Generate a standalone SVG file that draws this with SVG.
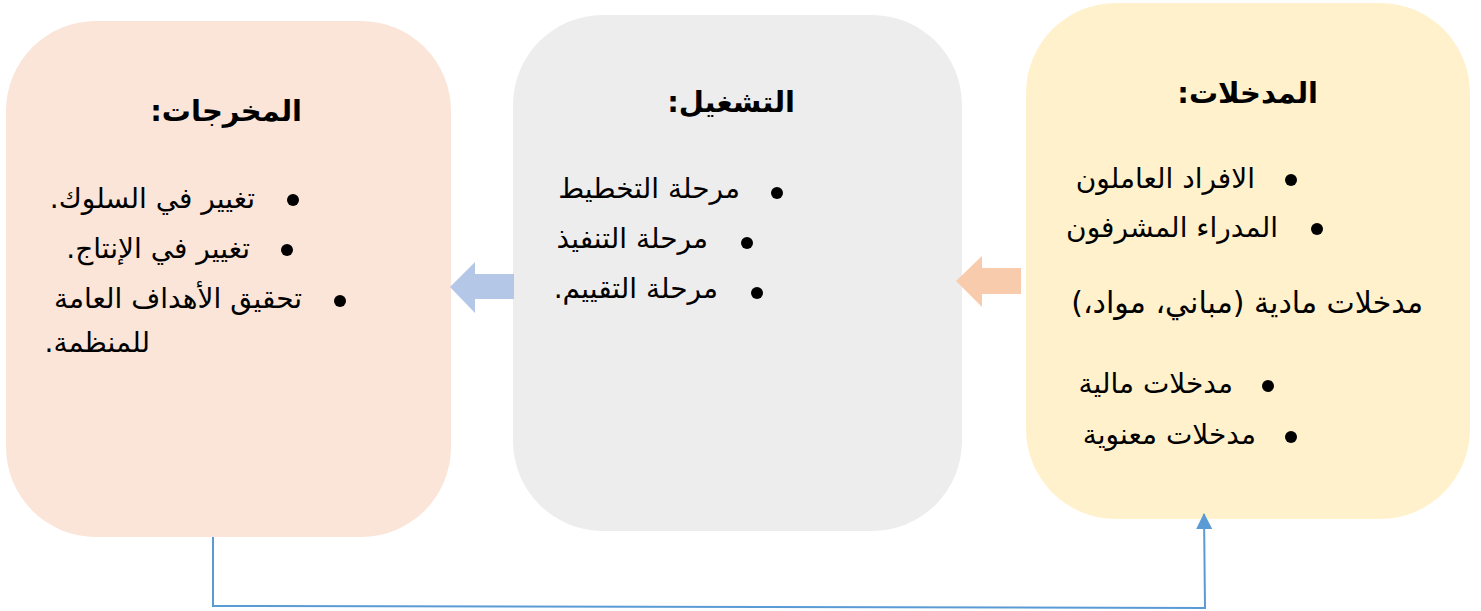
<svg xmlns="http://www.w3.org/2000/svg" width="1481" height="611" viewBox="0 0 1481 611">
<style>
.t{font-family:"DejaVu Sans","Liberation Sans",sans-serif;font-size:28px;fill:#000;direction:rtl;}
.h{font-family:"DejaVu Sans","Liberation Sans",sans-serif;font-size:29px;font-weight:bold;fill:#000;direction:rtl;}
.b{fill:#000;}
.conn{fill:none;stroke:#5B9BD5;stroke-width:2;}
</style>
<defs>
<marker id="ah" markerWidth="16" markerHeight="16" refX="15" refY="8" orient="auto" markerUnits="userSpaceOnUse" viewBox="0 0 16 16">
<path d="M0,0 L16,8 L0,16 Z" fill="#5B9BD5"/>
</marker>
</defs>
<rect width="1481" height="611" fill="#fff"/>
<g id="outputs">
<rect x="6" y="21" width="445" height="516" rx="90" ry="90" fill="#FAE5D8"/>
<text class="h" x="302" y="121" text-anchor="start">المخرجات:</text>
<circle class="b" cx="293" cy="200" r="6"/>
<text class="t" x="255" y="208" text-anchor="start">تغيير في السلوك.</text>
<circle class="b" cx="287" cy="250" r="6"/>
<text class="t" x="250" y="258" text-anchor="start">تغيير في الإنتاج.</text>
<circle class="b" cx="340" cy="301" r="6"/>
<text class="t" x="302" y="308" text-anchor="start">تحقيق الأهداف العامة</text>
<text class="t" x="150" y="352" text-anchor="start">للمنظمة.</text>
</g>
<g id="operation">
<rect x="513" y="15" width="449" height="516" rx="90" ry="90" fill="#EDEDED"/>
<text class="h" x="795" y="112" text-anchor="start">التشغيل:</text>
<circle class="b" cx="777" cy="193" r="6"/>
<text class="t" x="740" y="198" text-anchor="start">مرحلة التخطيط</text>
<circle class="b" cx="747" cy="243" r="6"/>
<text class="t" x="708" y="248" text-anchor="start">مرحلة التنفيذ</text>
<circle class="b" cx="757" cy="293" r="6"/>
<text class="t" x="718" y="298" text-anchor="start">مرحلة التقييم.</text>
</g>
<g id="inputs">
<rect x="1026" y="3" width="444" height="516" rx="90" ry="90" fill="#FFF1CC"/>
<text class="h" x="1318" y="103" text-anchor="start">المدخلات:</text>
<circle class="b" cx="1291" cy="180" r="6"/>
<text class="t" x="1255" y="188" text-anchor="start">الافراد العاملون</text>
<circle class="b" cx="1317" cy="229" r="6"/>
<text class="t" x="1278" y="237" text-anchor="start">المدراء المشرفون</text>
<text class="t" x="1423" y="313" text-anchor="start" style="font-size:30px">مدخلات مادية (مباني، مواد،)</text>
<circle class="b" cx="1268" cy="386" r="6"/>
<text class="t" x="1233" y="393" text-anchor="start">مدخلات مالية</text>
<circle class="b" cx="1291" cy="437" r="6"/>
<text class="t" x="1256" y="444" text-anchor="start">مدخلات معنوية</text>
</g>
<g id="connectors">
<path d="M514,274 L475,274 L475,262 L450,287 L475,313 L475,299 L514,299 Z" fill="#B4C7E7"/>
<path d="M1021,268 L982,268 L982,256 L956,281 L982,307 L982,294 L1021,294 Z" fill="#F8CBAD"/>
<path class="conn" d="M213,537 L213,606 L1205,608 L1204,514" marker-end="url(#ah)"/>
</g>
</svg>
